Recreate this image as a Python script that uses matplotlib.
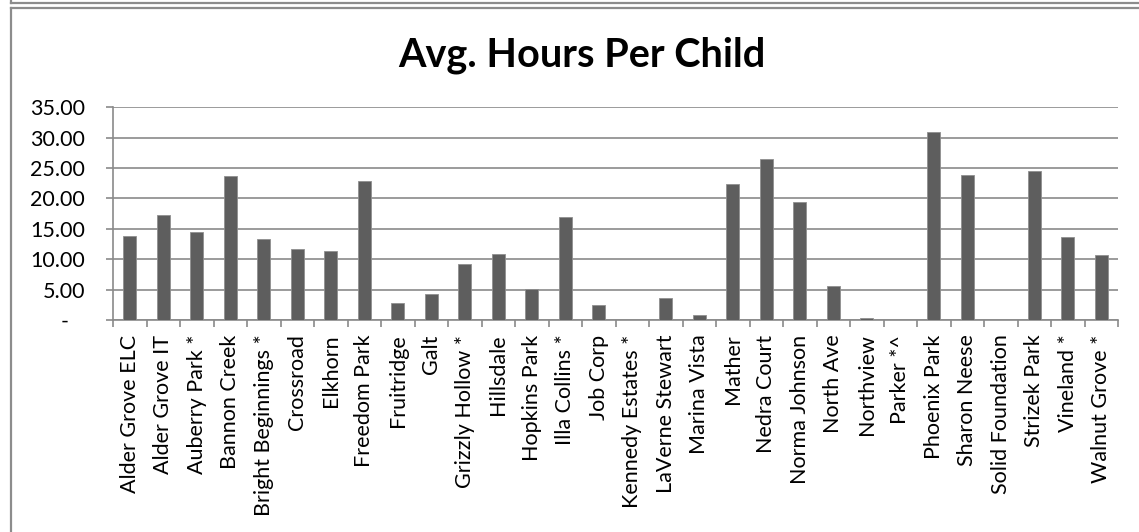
import matplotlib
matplotlib.use("Agg")
import matplotlib.pyplot as plt
from matplotlib.lines import Line2D
from matplotlib.ticker import FixedLocator, FuncFormatter

plt.rcParams["font.family"] = ["Lato", "DejaVu Sans"]

# average hours per child, by site
sites = [
    "Alder Grove ELC", "Alder Grove IT", "Auberry Park *", "Bannon Creek",
    "Bright Beginnings *", "Crossroad", "Elkhorn", "Freedom Park",
    "Fruitridge", "Galt", "Grizzly Hollow *", "Hillsdale", "Hopkins Park",
    "Illa Collins *", "Job Corp", "Kennedy Estates *", "LaVerne Stewart",
    "Marina Vista", "Mather", "Nedra Court", "Norma Johnson", "North Ave",
    "Northview", "Parker *^", "Phoenix Park", "Sharon Neese",
    "Solid Foundation", "Strizek Park", "Vineland *", "Walnut Grove *",
]
avg_hours = [
    13.82, 17.22, 14.54, 23.64, 13.33, 11.74, 11.30, 22.87,
    2.80, 4.22, 9.22, 10.81, 5.05, 16.90, 2.41, 0.00,
    3.62, 0.88, 22.33, 26.44, 19.47, 5.60, 0.33, 0.00,
    30.99, 23.86, 0.00, 24.57, 13.60, 10.70,
]
y_ticks = [0, 5, 10, 15, 20, 25, 30, 35]

GRID = "#8a8a8a"
BAR = "#5e5e5e"

fig = plt.figure(figsize=(11.39, 5.32), dpi=100)
ax = fig.add_axes([113 / 1139, 1 - 320 / 532, (1118 - 113) / 1139, (320 - 107.3) / 532])

x = list(range(len(sites)))
ax.bar(x, avg_hours, width=0.4, color=BAR, edgecolor="#8f8f8f", linewidth=0.6, zorder=3)

ax.set_xlim(-0.5, len(sites) - 0.5)
ax.set_ylim(0, 35)

# y axis: accounting-style labels, dash for zero
ax.yaxis.set_major_locator(FixedLocator(y_ticks))
ax.yaxis.set_major_formatter(FuncFormatter(lambda v, _: "-   " if v == 0 else f"{v:.2f}"))
ax.grid(axis="y", color=GRID, linewidth=1.2, zorder=0)
ax.tick_params(axis="y", length=5, width=1.2, color=GRID, labelsize=15.5, pad=15)

# x axis: ticks between categories, labels at centres
ax.set_xticks(x)
ax.set_xticklabels(sites, rotation=90, fontsize=15.5)
ax.set_xticks([i - 0.5 for i in range(len(sites) + 1)], minor=True)
ax.tick_params(axis="x", which="major", length=0, pad=10.5)
ax.tick_params(axis="x", which="minor", length=5, width=1.2, color=GRID)

for side in ("top", "right"):
    ax.spines[side].set_visible(False)
for side in ("left", "bottom"):
    ax.spines[side].set_color(GRID)
    ax.spines[side].set_linewidth(1.2)

fig.text(582 / 1139, 1 - 55 / 532, "Avg. Hours Per Child", ha="center", va="center",
         fontsize=28.5, fontweight="bold")

# chart frame (plus edge of the box above)
W, H = 1139, 532
frame = dict(color="#8c8c8c", linewidth=1.6, transform=fig.transFigure)
fig.add_artist(Line2D([11 / W, 11 / W], [0, 1 - 8 / H], **frame))
fig.add_artist(Line2D([11 / W, 1], [1 - 8 / H, 1 - 8 / H], **frame))
fig.add_artist(Line2D([11 / W, 1], [1 - 2.5 / H, 1 - 2.5 / H], **frame))
fig.add_artist(Line2D([11 / W, 11 / W], [1 - 2.5 / H, 1], **frame))

fig.savefig("out.png", dpi=100)
